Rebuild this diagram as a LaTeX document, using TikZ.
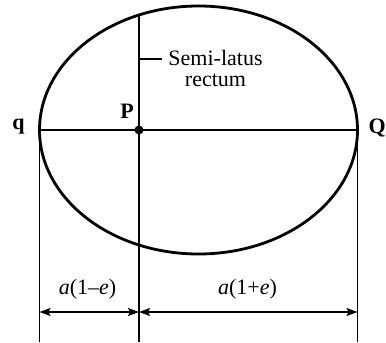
\documentclass[tikz,border=0pt]{standalone}
\usepackage{fontspec}
\setmainfont{Liberation Serif}
\usetikzlibrary{arrows.meta}
\begin{document}
\begin{tikzpicture}[x=1pt,y=-1pt,
  thinline/.style={line width=1.6pt},
  orbit/.style={line width=2.8pt},
  lbl/.style={font=\fontsize{22}{21}\selectfont\bfseries, inner sep=0pt},
  txt/.style={font=\fontsize{22}{21}\selectfont, inner sep=0pt},
  dim/.style={line width=1.6pt, {Stealth[length=11pt,width=8pt,inset=2pt]}-{Stealth[length=11pt,width=8pt,inset=2pt]}}]
\useasboundingbox (0,0) rectangle (386,343);
% ellipse
\draw[orbit] (198.5,130) ellipse [x radius=159, y radius=124];
% key points
\coordinate (q0) at (39.5,130);
\coordinate (Q0) at (357.5,130);
\coordinate (P0) at (139,130);
\coordinate (Ptop) at (139,15);
\coordinate (qb) at (39.5,342);
\coordinate (Pb) at (139,342);
\coordinate (Qb) at (357.5,342);
\coordinate (tickend) at (162,59);
\coordinate (tickstart) at (139,59);
\coordinate (dl) at (39.5,312);
\coordinate (dm) at (139,312);
\coordinate (dr) at (357.5,312);
% lines
\draw[thinline] (q0) -- (Q0);
\draw[thinline] (Ptop) -- (Pb);
\draw[thinline] (q0) -- (qb);
\draw[thinline] (Q0) -- (Qb);
\draw[thinline] (tickstart) -- (tickend);
\fill (P0) circle (4.5pt);
% dimension arrows
\draw[dim] (dl) -- (dm);
\draw[dim] (dm) -- (dr);
% labels
\node[lbl] (ql) at (18.5,127) {q};
\node[lbl, anchor=east] (Ql) at (386,128) {Q};
\node[lbl] (Pl) at (127,111) {P};
\node[txt, align=center, anchor=north] (slr) at (215.5,50) {Semi-latus\\rectum};
\node[txt] (a1) at (87.5,289) {\textit{a}(1–\textit{e})};
\node[txt] (a2) at (247.5,289) {\textit{a}(1+\textit{e})};
\end{tikzpicture}
\end{document}
